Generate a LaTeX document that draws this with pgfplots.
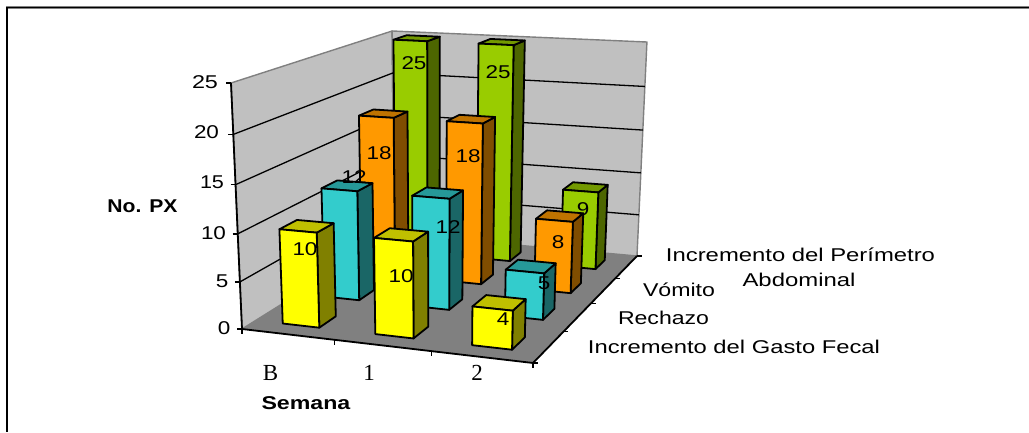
\documentclass[border=0pt]{standalone}
\usepackage{graphicx}
\usepackage{fontspec}
\setmainfont{Liberation Sans}
\newfontfamily\tnr{Liberation Serif}
\usepackage{pgfplots}
\usepackage{pgfplotstable}
\pgfplotsset{compat=1.18}
\definecolor{ywF}{HTML}{FFFF00}\definecolor{ywS}{HTML}{808000}\definecolor{ywT}{HTML}{C0C000}
\definecolor{cyF}{HTML}{33CCCC}\definecolor{cyS}{HTML}{1A6666}\definecolor{cyT}{HTML}{269999}
\definecolor{orF}{HTML}{FF9900}\definecolor{orS}{HTML}{804D00}\definecolor{orT}{HTML}{BF7300}
\definecolor{grF}{HTML}{99CC00}\definecolor{grS}{HTML}{4D6600}\definecolor{grT}{HTML}{739900}
\definecolor{wall}{HTML}{C0C0C0}\definecolor{floorc}{HTML}{808080}
% one table per series: week index, value
\pgfplotstableread{
week value
0 10
1 10
2 4
}\tblGasto
\pgfplotstableread{
week value
0 12
1 12
2 5
}\tblRechazo
\pgfplotstableread{
week value
0 18
1 18
2 8
}\tblVomito
\pgfplotstableread{
week value
0 25
1 25
2 9
}\tblPerimetro
% perspective of the 3-D chart box: s along weeks, t along series (0..1), z = value
\newcommand\prj[5]{%
  \pgfmathsetmacro\pw{1-0.0657*#1+0.2257*#2-0.00216*#3}%
  \pgfmathsetmacro#4{(256*#1+240.9*#2+242-0.94*#3)/\pw}%
  \pgfmathsetmacro#5{(10.15*#1-42.2*#2+329-10.02*#3)/\pw}}
\tikzset{edge/.style={draw=black,line width=1.8pt,line join=round}}
% #1 table, #2 row, #3 series position, #4 colour prefix
\newcommand\barplot[4]{%
  \pgfplotstablegetelem{#2}{value}\of{#1}\let\zz\pgfplotsretval
  \pgfmathsetmacro\sa{(#2+0.5)/3-0.0667}\pgfmathsetmacro\sb{(#2+0.5)/3+0.0667}%
  \pgfmathsetmacro\ta{(#3+0.5)/4-0.05}\pgfmathsetmacro\tb{(#3+0.5)/4+0.05}%
  \prj{\sa}{\ta}{0}\ax\ay \prj{\sb}{\ta}{0}\bx\by \prj{\sb}{\tb}{0}\cx\cy
  \prj{\sa}{\ta}{\zz}\dx\dy \prj{\sb}{\ta}{\zz}\ex\ey \prj{\sb}{\tb}{\zz}\fx\fy \prj{\sa}{\tb}{\zz}\gx\gy
  \addplot[edge,fill=#4S] coordinates {(\bx,\by)(\cx,\cy)(\fx,\fy)(\ex,\ey)} --cycle;
  \addplot[edge,fill=#4T] coordinates {(\dx,\dy)(\ex,\ey)(\fx,\fy)(\gx,\gy)} --cycle;
  \addplot[edge,fill=#4F] coordinates {(\ax,\ay)(\bx,\by)(\ex,\ey)(\dx,\dy)} --cycle;
}
\newcommand\gridz[1]{%
  \prj{0}{0}{#1}\ax\ay \prj{0}{1}{#1}\bx\by \prj{1}{1}{#1}\cx\cy
  \addplot[black,line width=1.3pt] coordinates {(\ax,\ay)(\bx,\by)(\cx,\cy)};
  \pgfmathsetmacro\tx{\ax-5}%
  \addplot[black,line width=1.3pt] coordinates {(\tx,\ay)(\ax,\ay)};
}
\newcommand\tickS[1]{\prj{#1}{0}{0}\ax\ay \pgfmathsetmacro\ty{\ay+5}%
  \addplot[black,line width=1.3pt] coordinates {(\ax,\ay)(\ax,\ty)};}
\newcommand\tickT[1]{\prj{1}{#1}{0}\ax\ay \pgfmathsetmacro\tx{\ax+5}%
  \addplot[black,line width=1.3pt] coordinates {(\ax,\ay)(\tx,\ay)};}
% text stretched to the width of the reference
\newcommand\lab[4]{\node[inner sep=0pt] at (axis cs:#1,#2) {\resizebox{#3pt}{\height}{\fontsize{18.5}{21}\selectfont #4}};}
\begin{document}
\begin{tikzpicture}
\begin{axis}[
  scale only axis, width=1029pt, height=432pt,
  xmin=0, xmax=1029, ymin=0, ymax=432, y dir=reverse,
  hide axis, clip=false, anchor=south west, at={(0,0)},
]
% outer frame lines
\addplot[gray,line width=3pt] coordinates {(6,7.5)(1029,7.5)};
\addplot[black,line width=1.5pt] coordinates {(6,7.5)(1029,7.5)};
\addplot[black,line width=2pt] coordinates {(6.7,7)(6.7,432)};
% walls and floor
\prj{0}{0}{0}\Ax\Ay \prj{1}{0}{0}\Bx\By \prj{1}{1}{0}\Cx\Cy \prj{0}{1}{0}\Dx\Dy
\prj{0}{0}{25}\Ex\Ey \prj{1}{1}{25}\Gx\Gy \prj{0}{1}{25}\Hx\Hy
\addplot[fill=wall,draw=floorc,line width=1.4pt,line join=round] coordinates {(\Ax,\Ay)(\Dx,\Dy)(\Hx,\Hy)(\Ex,\Ey)} --cycle;
\addplot[fill=wall,draw=floorc,line width=1.4pt,line join=round] coordinates {(\Dx,\Dy)(\Cx,\Cy)(\Gx,\Gy)(\Hx,\Hy)} --cycle;
\addplot[fill=floorc,draw=none] coordinates {(\Ax,\Ay)(\Bx,\By)(\Cx,\Cy)(\Dx,\Dy)} --cycle;
\gridz{5}\gridz{10}\gridz{15}\gridz{20}
\prj{0}{0}{25}\ax\ay \pgfmathsetmacro\tx{\ax-5}%
\addplot[black,line width=1.3pt] coordinates {(\tx,\ay)(\ax,\ay)};
\prj{0}{0}{0}\ax\ay \pgfmathsetmacro\tx{\ax-5}%
\addplot[black,line width=1.3pt] coordinates {(\tx,\ay)(\ax,\ay)};
% axis edges
\addplot[black,line width=1.8pt] coordinates {(\Ex,\Ey)(\Ax,\Ay)(\Bx,\By)(\Cx,\Cy)};
\tickS{0}\tickS{0.3333}\tickS{0.6667}\tickS{1}
\tickT{0}\tickT{0.25}\tickT{0.5}\tickT{0.75}\tickT{1}
% bars, back to front
\barplot{\tblPerimetro}{0}{3}{gr}\barplot{\tblPerimetro}{1}{3}{gr}\barplot{\tblPerimetro}{2}{3}{gr}
\barplot{\tblVomito}{0}{2}{or}\barplot{\tblVomito}{1}{2}{or}\barplot{\tblVomito}{2}{2}{or}
\barplot{\tblRechazo}{0}{1}{cy}\barplot{\tblRechazo}{1}{1}{cy}\barplot{\tblRechazo}{2}{1}{cy}
\barplot{\tblGasto}{0}{0}{yw}\barplot{\tblGasto}{1}{0}{yw}\barplot{\tblGasto}{2}{0}{yw}
% data labels
\lab{305}{249}{25}{10}\lab{401}{276}{25}{10}\lab{503}{319}{12.5}{4}
\lab{354}{177}{25}{12}\lab{448}{227}{25}{12}\lab{544}{283}{12.5}{5}
\lab{379}{153}{25}{18}\lab{468}{156}{25}{18}\lab{558}{242}{12.5}{8}
\lab{414}{63}{25}{25}\lab{498}{72}{25}{25}\lab{583}{209}{12.5}{9}
% value axis
\lab{205}{82}{26}{25}\lab{206.5}{132}{25}{20}\lab{212}{182}{24}{15}\lab{213.5}{233}{25}{10}\lab{222}{281}{12.5}{5}\lab{224}{328}{12.5}{0}
\lab{142.5}{206}{70}{\textbf{No. PX}}
% week axis
\node[font=\tnr\fontsize{23}{26}\selectfont,inner sep=0pt] at (axis cs:270.5,372.5) {B};
\node[font=\tnr\fontsize{23}{26}\selectfont,inner sep=0pt] at (axis cs:369,372.5) {1};
\node[font=\tnr\fontsize{23}{26}\selectfont,inner sep=0pt] at (axis cs:477,372.5) {2};
\lab{306}{403}{89}{\textbf{Semana}}
% series axis
\lab{800.5}{255}{269}{Incremento del Perímetro}
\lab{799}{280}{113}{Abdominal}
\lab{679}{290}{72}{Vómito}
\lab{663.5}{318}{91}{Rechazo}
\lab{734}{347}{292}{Incremento del Gasto Fecal}
\end{axis}
\pgfresetboundingbox
\useasboundingbox (0,0) rectangle (1029pt,432pt);
\end{tikzpicture}
\end{document}
